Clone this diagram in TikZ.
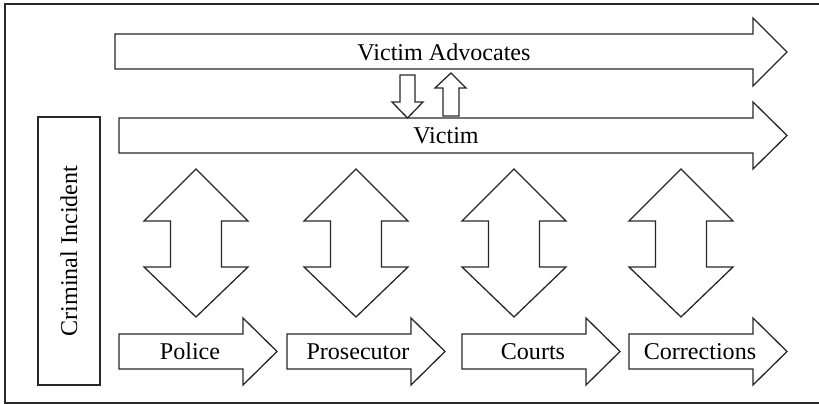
\documentclass[tikz,border=0pt]{standalone}
\usepackage{fontspec}
\setmainfont{Liberation Serif}
\definecolor{myLine}{RGB}{40,40,40}

\begin{document}
\begin{tikzpicture}[%
    x=0.02cm, y=-0.02cm,
    every node/.style={
        font=\fontsize{13.7}{16}\selectfont,
        inner sep=0pt,
    },
    outline/.style={draw=myLine, line width=0.026cm, fill=white, line join=miter},
    frame/.style={draw=myLine, line width=0.03cm},
]
% picture size and outer frame
\clip (0,0) rectangle (819,404);
\draw[frame] (5,4) rectangle (830,403);

% long arrow at the top
\draw[outline] (115,34) -- (753,34) -- (753,18) -- (787,52) -- (753,86)
    -- (753,69) -- (115,69) -- cycle;
\node (advocates) at (444,52) {Victim Advocates};

% long arrow below it
\draw[outline] (119,118) -- (753,118) -- (753,102) -- (787,135.5) -- (753,169)
    -- (753,153) -- (119,153) -- cycle;
\node (victim) at (446,135.5) {Victim};

% small arrows between the two
\draw[outline] (400,75) -- (415,75) -- (415,102) -- (423,102) -- (407.5,118)
    -- (392,102) -- (400,102) -- cycle;
\draw[outline] (443,116) -- (459,116) -- (459,88) -- (466,88) -- (451,73)
    -- (435,88) -- (443,88) -- cycle;

% box on the left
\node[outline, rotate=90, minimum width=5.36cm, minimum height=1.24cm]
    (incident) at (69,251) {Criminal Incident};

% double arrows
\foreach \c in {196,356,514,681}{
    \draw[outline] (\c,169) -- (\c+52,221) -- (\c+25.5,221) -- (\c+25.5,267)
        -- (\c+52,267) -- (\c,317) -- (\c-52,267) -- (\c-25.5,267)
        -- (\c-25.5,221) -- (\c-52,221) -- cycle;
}

% stage arrows at the bottom
\foreach \x/\name/\txt in {119/police/Police, 287/prosecutor/Prosecutor,
    462/courts/Courts, 629/corrections/Corrections}{
    \draw[outline] (\x,334) -- (\x+124,334) -- (\x+124,318) -- (\x+158,351.5)
        -- (\x+124,385) -- (\x+124,369) -- (\x,369) -- cycle;
    \node (\name) at (\x+71,351.5) {\txt};
}
\end{tikzpicture}
\end{document}
